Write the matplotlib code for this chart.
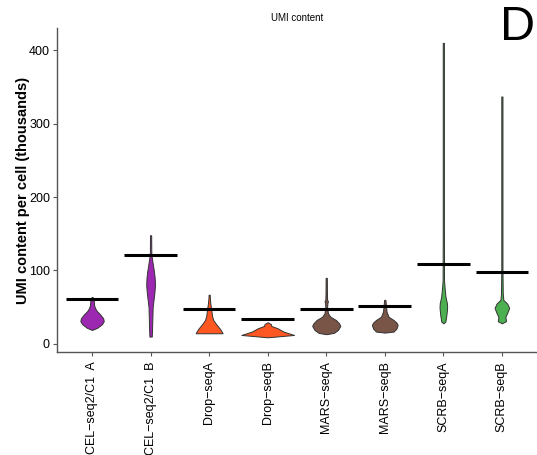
import matplotlib
matplotlib.use("Agg")
import matplotlib.pyplot as plt
import numpy as np

plt.rcParams['font.family'] = ['Liberation Sans', 'DejaVu Sans']

# groups, colours and mean lines (UMI content in thousands)
groups = ["CEL\u2212seq2/C1  A", "CEL\u2212seq2/C1  B", "Drop\u2212seqA", "Drop\u2212seqB",
          "MARS\u2212seqA", "MARS\u2212seqB", "SCRB\u2212seqA", "SCRB\u2212seqB"]
colors = ["#9C27B0", "#9C27B0", "#FF5722", "#FF5722",
          "#795548", "#795548", "#4CAF50", "#4CAF50"]
means = [61.6, 121.5, 48, 34.4, 48, 51.7, 109, 98.4]

# violin outlines: y level and half width for each group
prof_y = [
    [19, 22, 27, 31, 35, 40, 45, 49, 53, 58, 63, 64],
    [10, 20, 35, 50, 60, 70, 80, 90, 100, 110, 118, 125, 148],
    [14.5, 16, 20, 23.5, 28, 32.6, 38, 46, 55.5, 62, 67],
    [9, 12.2, 16.8, 21.3, 24.5, 27, 29.5],
    [13.2, 15, 19, 24.5, 28, 32.6, 37, 41.7, 50, 56, 58, 60, 70, 90],
    [15.4, 16.8, 21, 25.9, 29, 32.6, 37, 44, 53, 60],
    [28, 30.4, 38, 45, 50.7, 56, 64, 78, 87, 150, 250, 410],
    [28, 31, 37, 42, 49, 55, 60, 69, 100, 200, 337],
]
prof_w = [
    [0.0, 0.09, 0.17, 0.20, 0.19, 0.14, 0.08, 0.05, 0.035, 0.03, 0.02, 0.0],
    [0.02, 0.025, 0.03, 0.035, 0.05, 0.065, 0.075, 0.07, 0.055, 0.035, 0.02, 0.012, 0.01],
    [0.23, 0.22, 0.19, 0.155, 0.11, 0.07, 0.05, 0.037, 0.02, 0.012, 0.01],
    [0.0, 0.45, 0.27, 0.17, 0.06, 0.055, 0.0],
    [0.0, 0.13, 0.2, 0.24, 0.22, 0.165, 0.07, 0.03, 0.015, 0.02, 0.03, 0.015, 0.012, 0.01],
    [0.0, 0.15, 0.2, 0.22, 0.2, 0.15, 0.065, 0.03, 0.02, 0.01],
    [0.0, 0.035, 0.05, 0.06, 0.065, 0.06, 0.037, 0.02, 0.012, 0.01, 0.01, 0.01],
    [0.0, 0.07, 0.06, 0.09, 0.125, 0.09, 0.025, 0.015, 0.01, 0.01, 0.01],
]

fig, ax = plt.subplots(figsize=(5.37, 4.55), dpi=100)
fig.subplots_adjust(left=0.106, right=1.0, bottom=0.2264, top=0.938)

for i in range(len(groups)):
    x = i + 1
    y = np.array(prof_y[i])
    w = np.array(prof_w[i])
    ax.fill_betweenx(y, x - w, x + w, facecolor=colors[i], edgecolor="#333333", linewidth=0.7, zorder=2)
    ax.hlines(means[i], x - 0.45, x + 0.45, color="black", linewidth=2.2, zorder=3)

ax.set_xlim(0.4, 8.6)
ax.set_ylim(-11, 430)
ax.set_xticks(range(1, len(groups) + 1))
ax.set_xticklabels(groups, rotation=90, fontsize=9, color="black")
ax.set_yticks([0, 100, 200, 300, 400])
ax.tick_params(axis="y", labelsize=9, length=3, color="#555555", pad=2)
ax.tick_params(axis="x", length=3, color="#555555")
for s in ["top", "right"]:
    ax.spines[s].set_visible(False)
for s in ["left", "bottom"]:
    ax.spines[s].set_color("#555555")
    ax.spines[s].set_linewidth(1.0)

ax.set_ylabel("UMI content per cell (thousands)", fontsize=10.5, fontweight="bold", labelpad=-1)
ax.set_title("UMI content", fontsize=7, pad=5)
fig.text(0.997, 0.99, "D", fontsize=35, ha="right", va="top")

fig.savefig("out.png", dpi=100)
